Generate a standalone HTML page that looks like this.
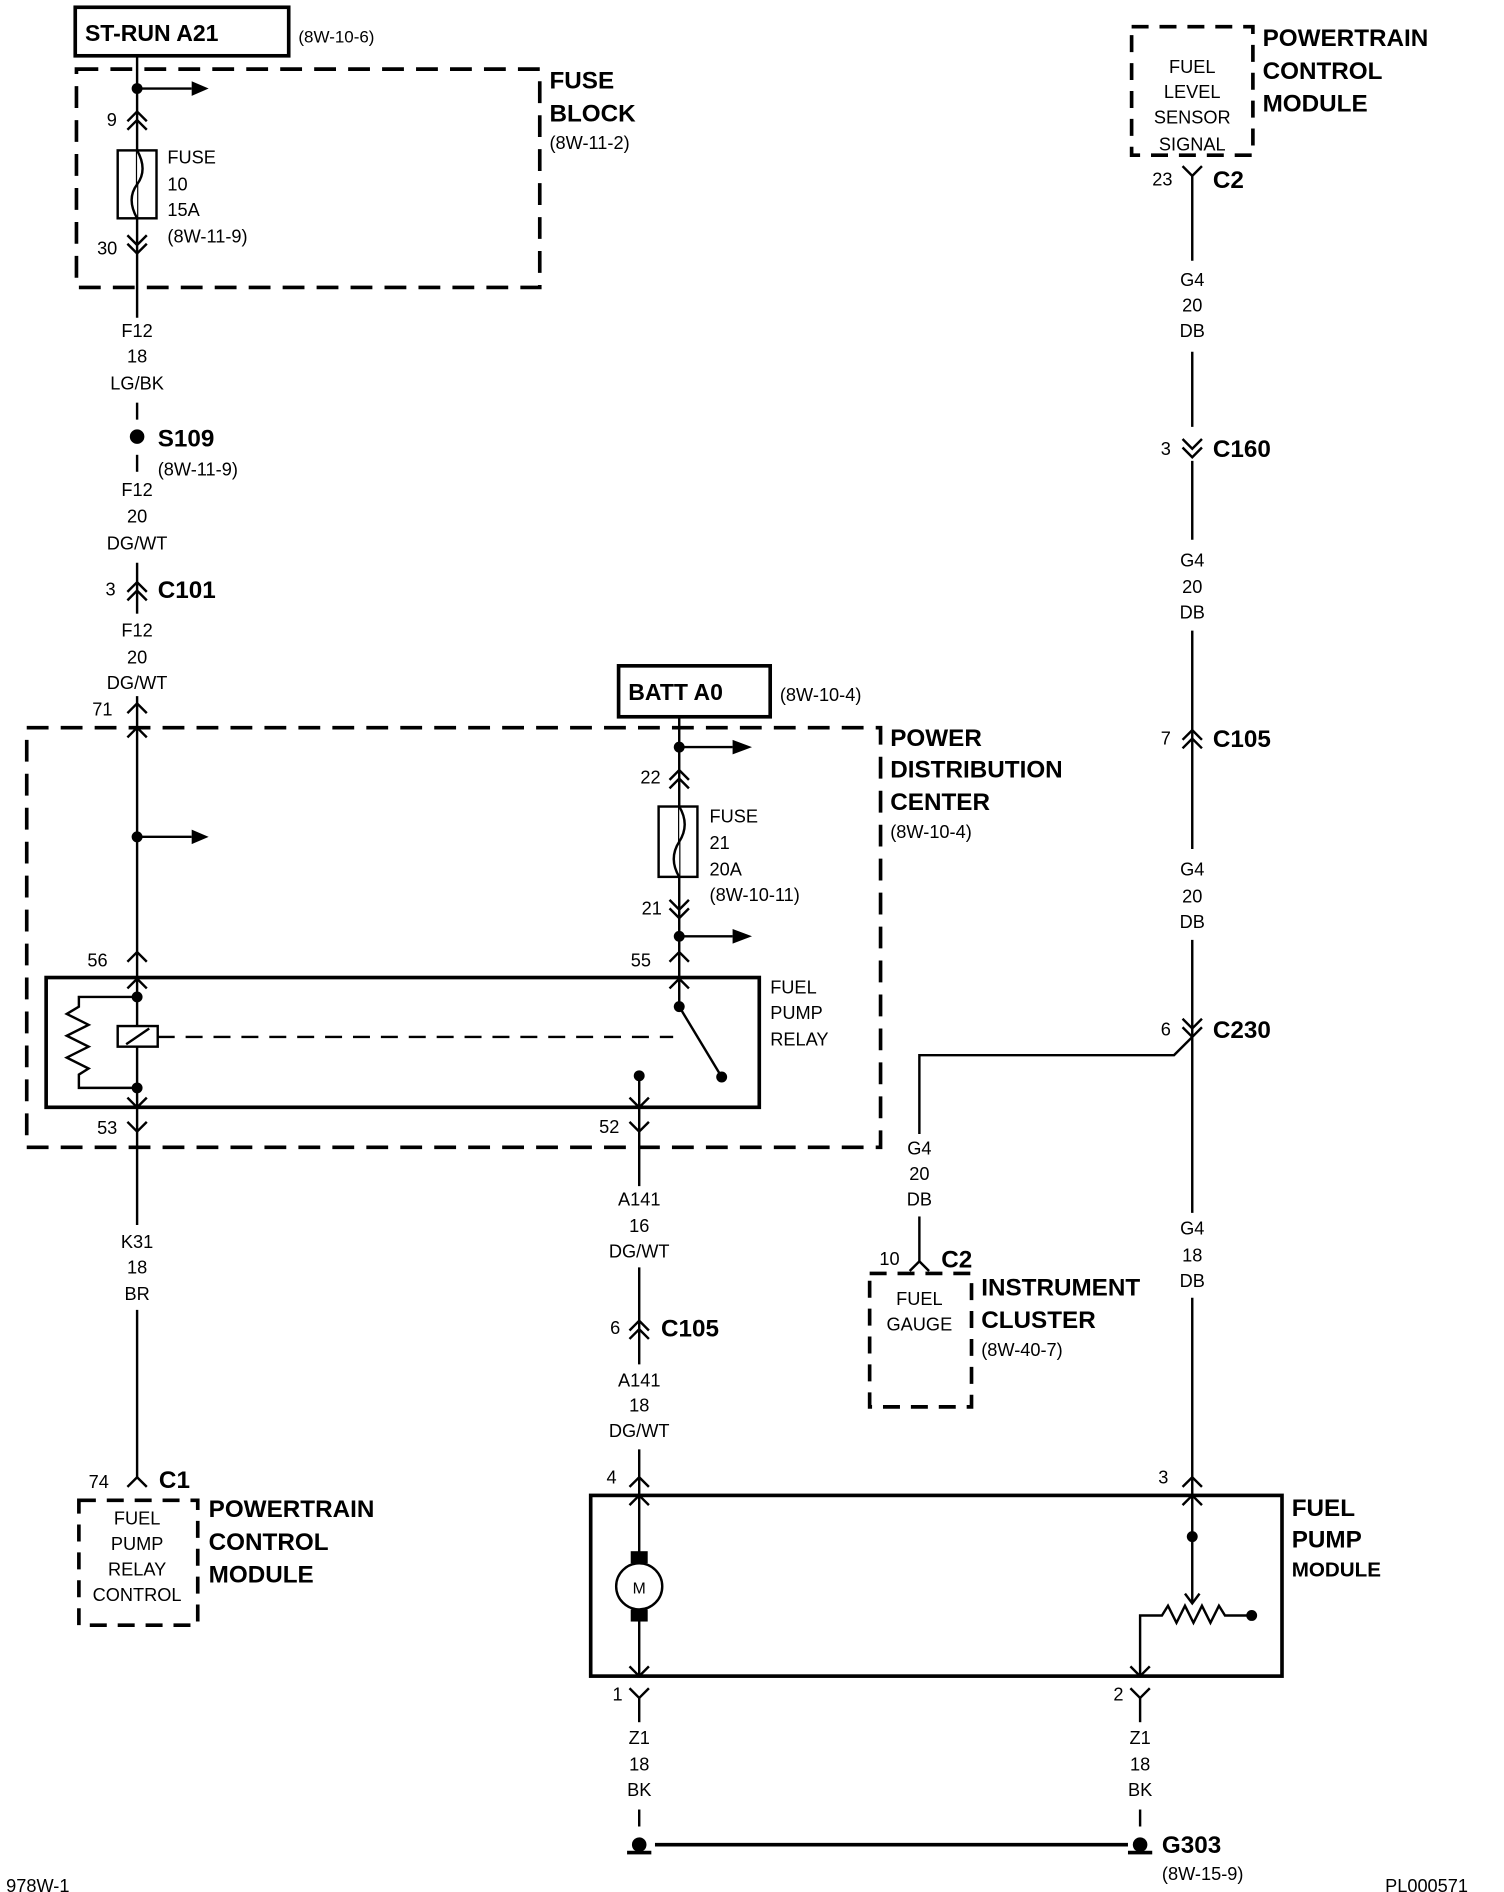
<!DOCTYPE html>
<html><head><meta charset="utf-8"><style>
html,body{margin:0;padding:0;background:#fff;}
svg{display:block;}
text{font-family:"Liberation Sans",sans-serif;fill:#000;}
.s{font-size:15px;}
.b{font-size:20px;font-weight:bold;}
.c{text-anchor:middle;}
</style></head><body>
<svg width="1504" height="1892" viewBox="0 0 1240 1560" xmlns="http://www.w3.org/2000/svg">
<g fill="none" stroke="#000" stroke-width="2">
<rect x="62" y="6" width="176" height="40" stroke-width="3"/>
<rect x="63" y="57" width="382" height="180" stroke-width="3" stroke-dasharray="18,10"/>
<line x1="113" y1="46" x2="113" y2="262"/>
<line x1="113" y1="73" x2="158" y2="73"/>
<path d="M105 100 L113 92 L121 100 M105 107 L113 99 L121 107"/>
<rect x="97" y="124" width="32" height="56"/>
<path d="M113 124 Q122 140 113 152 Q104 164 113 180" fill="#fff"/>
<path d="M105 194 L113 202 L121 194 M105 201 L113 209 L121 201"/>
<line x1="113" y1="332" x2="113" y2="346"/>
<line x1="113" y1="375" x2="113" y2="389"/>
<line x1="113" y1="464" x2="113" y2="506"/>
<path d="M105 488 L113 480 L121 488 M105 495 L113 487 L121 495"/>
<line x1="113" y1="574" x2="113" y2="913"/>
<path d="M105 588 L113 580 L121 588 M105 608 L113 600 L121 608"/>
<line x1="113" y1="690" x2="158" y2="690"/>
<path d="M105 793 L113 785 L121 793 M105 815 L113 807 L121 815"/>
<rect x="22" y="600" width="704" height="346" stroke-width="3" stroke-dasharray="18,10"/>
<rect x="38" y="806" width="588" height="107" stroke-width="3"/>
<path d="M113 822 L65 822 L65 830 L55 836 L73 845 L55 854 L73 863 L55 872 L73 881 L65 886 L65 897 L113 897"/>
<rect x="97" y="846" width="33" height="17" fill="#fff"/>
<line x1="104" y1="861" x2="123" y2="848"/>
<line x1="130" y1="855" x2="555" y2="855" stroke-dasharray="14,9"/>
<path d="M105 905 L113 913 L121 905 M105 925 L113 933 L121 925"/>
<line x1="560" y1="592" x2="560" y2="830"/>
<line x1="560" y1="616" x2="604" y2="616"/>
<path d="M552 643 L560 635 L568 643 M552 650 L560 642 L568 650"/>
<rect x="543" y="665" width="32" height="58"/>
<path d="M560 665 Q569 680 560 694 Q551 708 560 723" fill="#fff"/>
<path d="M552 742 L560 750 L568 742 M552 749 L560 757 L568 749"/>
<line x1="560" y1="772" x2="604" y2="772"/>
<path d="M552 793 L560 785 L568 793 M552 815 L560 807 L568 815"/>
<line x1="560" y1="830" x2="595" y2="888"/>
<line x1="527" y1="887" x2="527" y2="978"/>
<path d="M519 905 L527 913 L535 905 M519 925 L527 933 L535 925"/>
<line x1="113" y1="913" x2="113" y2="1010"/>
<line x1="113" y1="1080" x2="113" y2="1218"/>
<path d="M105 1226 L113 1218 L121 1226"/>
<rect x="65" y="1237" width="98" height="103" stroke-width="3" stroke-dasharray="14,9"/>
<line x1="527" y1="1045" x2="527" y2="1125"/>
<path d="M519 1097 L527 1089 L535 1097 M519 1104 L527 1096 L535 1104"/>
<line x1="527" y1="1195" x2="527" y2="1280"/>
<path d="M519 1226 L527 1218 L535 1226 M519 1241 L527 1233 L535 1241"/>
<rect x="487" y="1233" width="570" height="149" stroke-width="3"/>
<circle cx="527" cy="1308" r="19"/>
<line x1="527" y1="1336" x2="527" y2="1382"/>
<path d="M519 1374 L527 1382 L535 1374 M519 1392 L527 1400 L535 1392"/>
<line x1="527" y1="1400" x2="527" y2="1420"/>
<line x1="527" y1="1492" x2="527" y2="1506"/>
<line x1="540" y1="1521" x2="930" y2="1521" stroke-width="3"/>
<rect x="933" y="22" width="100" height="106" stroke-width="3" stroke-dasharray="14,9"/>
<path d="M975 137 L983 145 L991 137"/>
<line x1="983" y1="145" x2="983" y2="215"/>
<line x1="983" y1="290" x2="983" y2="352"/>
<path d="M975 362 L983 370 L991 362 M975 369 L983 377 L991 369"/>
<line x1="983" y1="380" x2="983" y2="445"/>
<line x1="983" y1="520" x2="983" y2="700"/>
<path d="M975 610 L983 602 L991 610 M975 617 L983 609 L991 617"/>
<line x1="983" y1="775" x2="983" y2="1000"/>
<path d="M975 840 L983 848 L991 840 M975 847 L983 855 L991 847"/>
<path d="M983 855 L968 870 L758 870 L758 935"/>
<line x1="758" y1="1003" x2="758" y2="1040"/>
<path d="M750 1048 L758 1040 L766 1048"/>
<rect x="717" y="1050" width="84" height="110" stroke-width="3" stroke-dasharray="14,9"/>
<line x1="983" y1="1070" x2="983" y2="1322"/>
<path d="M975 1226 L983 1218 L991 1226 M975 1241 L983 1233 L991 1241"/>
<path d="M977 1314 L983 1322 L989 1314"/>
<path d="M940 1382 L940 1332 L958 1332 L963 1324 L970 1338 L977 1324 L984 1338 L991 1324 L998 1338 L1005 1324 L1010 1332 L1032 1332"/>
<path d="M932 1374 L940 1382 L948 1374 M932 1392 L940 1400 L948 1392"/>
<line x1="940" y1="1400" x2="940" y2="1420"/>
<line x1="940" y1="1492" x2="940" y2="1506"/>
</g>
<g fill="#000">
<path d="M158 67 L172 73 L158 79Z"/><path d="M158 684 L172 690 L158 696Z"/>
<path d="M604 610 L620 616 L604 622Z"/><path d="M604 766 L620 772 L604 778Z"/>
<circle cx="113" cy="73" r="4.5"/><circle cx="113" cy="360" r="6"/><circle cx="113" cy="690" r="4.5"/>
<circle cx="113" cy="822" r="4.5"/><circle cx="113" cy="897" r="4.5"/>
<circle cx="560" cy="616" r="4.5"/><circle cx="560" cy="772" r="4.5"/><circle cx="560" cy="830" r="4.5"/>
<circle cx="595" cy="888" r="4.5"/><circle cx="527" cy="887" r="4.5"/>
<circle cx="983" cy="1267" r="4.5"/><circle cx="1032" cy="1332" r="4.5"/>
<rect x="520" y="1279" width="14" height="10"/><rect x="520" y="1327" width="14" height="10"/>
<circle cx="527" cy="1521" r="6"/><rect x="517" y="1526" width="20" height="3"/>
<circle cx="940" cy="1521" r="6"/><rect x="930" y="1526" width="20" height="3"/>
</g>
<text x="70" y="34" class="b" style="font-size:19px">ST-RUN A21</text>
<text x="246" y="35" class="s" style="font-size:14px">(8W-10-6)</text>
<text x="453" y="73" class="b">FUSE</text><text x="453" y="100" class="b">BLOCK</text><text x="453" y="123" class="s">(8W-11-2)</text>
<text x="88" y="104" class="s">9</text>
<text x="138" y="135" class="s">FUSE</text><text x="138" y="157" class="s">10</text><text x="138" y="178" class="s">15A</text><text x="138" y="200" class="s">(8W-11-9)</text>
<text x="80" y="210" class="s">30</text>
<text x="113" y="278" class="s c">F12</text><text x="113" y="299" class="s c">18</text><text x="113" y="321" class="s c">LG/BK</text>
<text x="130" y="368" class="b">S109</text><text x="130" y="392" class="s">(8W-11-9)</text>
<text x="113" y="409" class="s c">F12</text><text x="113" y="431" class="s c">20</text><text x="113" y="453" class="s c">DG/WT</text>
<text x="87" y="491" class="s">3</text><text x="130" y="493" class="b">C101</text>
<text x="113" y="525" class="s c">F12</text><text x="113" y="547" class="s c">20</text><text x="113" y="568" class="s c">DG/WT</text>
<text x="76" y="590" class="s">71</text>
<rect x="510" y="549" width="125" height="42" fill="none" stroke="#000" stroke-width="3"/>
<text x="518" y="577" class="b" style="font-size:19px">BATT A0</text>
<text x="643" y="578" class="s">(8W-10-4)</text>
<text x="734" y="615" class="b">POWER</text><text x="734" y="641" class="b">DISTRIBUTION</text><text x="734" y="668" class="b">CENTER</text><text x="734" y="691" class="s">(8W-10-4)</text>
<text x="528" y="646" class="s">22</text>
<text x="585" y="678" class="s">FUSE</text><text x="585" y="700" class="s">21</text><text x="585" y="722" class="s">20A</text><text x="585" y="743" class="s">(8W-10-11)</text>
<text x="529" y="754" class="s">21</text>
<text x="72" y="797" class="s">56</text><text x="520" y="797" class="s">55</text>
<text x="635" y="819" class="s">FUEL</text><text x="635" y="840" class="s">PUMP</text><text x="635" y="862" class="s">RELAY</text>
<text x="80" y="935" class="s">53</text><text x="494" y="934" class="s">52</text>
<text x="113" y="1029" class="s c">K31</text><text x="113" y="1050" class="s c">18</text><text x="113" y="1072" class="s c">BR</text>
<text x="527" y="994" class="s c">A141</text><text x="527" y="1016" class="s c">16</text><text x="527" y="1037" class="s c">DG/WT</text>
<text x="503" y="1100" class="s">6</text><text x="545" y="1102" class="b">C105</text>
<text x="527" y="1143" class="s c">A141</text><text x="527" y="1164" class="s c">18</text><text x="527" y="1185" class="s c">DG/WT</text>
<text x="73" y="1227" class="s">74</text><text x="131" y="1227" class="b">C1</text>
<text x="113" y="1257" class="s c">FUEL</text><text x="113" y="1278" class="s c">PUMP</text><text x="113" y="1299" class="s c">RELAY</text><text x="113" y="1320" class="s c">CONTROL</text>
<text x="172" y="1251" class="b">POWERTRAIN</text><text x="172" y="1278" class="b">CONTROL</text><text x="172" y="1305" class="b">MODULE</text>
<text x="500" y="1223" class="s">4</text><text x="955" y="1223" class="s">3</text>
<text x="527" y="1314" class="c" style="font-size:13px">M</text>
<text x="1065" y="1250" class="b">FUEL</text><text x="1065" y="1276" class="b">PUMP</text><text x="1065" y="1300" class="b" style="font-size:17px">MODULE</text>
<text x="505" y="1402" class="s">1</text><text x="918" y="1402" class="s">2</text>
<text x="527" y="1438" class="s c">Z1</text><text x="527" y="1460" class="s c">18</text><text x="527" y="1481" class="s c">BK</text>
<text x="940" y="1438" class="s c">Z1</text><text x="940" y="1460" class="s c">18</text><text x="940" y="1481" class="s c">BK</text>
<text x="958" y="1528" class="b">G303</text><text x="958" y="1550" class="s">(8W-15-9)</text>
<text x="983" y="60" class="s c">FUEL</text><text x="983" y="81" class="s c">LEVEL</text><text x="983" y="102" class="s c">SENSOR</text><text x="983" y="124" class="s c">SIGNAL</text>
<text x="1041" y="38" class="b">POWERTRAIN</text><text x="1041" y="65" class="b">CONTROL</text><text x="1041" y="92" class="b">MODULE</text>
<text x="950" y="153" class="s">23</text><text x="1000" y="155" class="b">C2</text>
<text x="983" y="236" class="s c">G4</text><text x="983" y="257" class="s c">20</text><text x="983" y="278" class="s c">DB</text>
<text x="957" y="375" class="s">3</text><text x="1000" y="377" class="b">C160</text>
<text x="983" y="467" class="s c">G4</text><text x="983" y="489" class="s c">20</text><text x="983" y="510" class="s c">DB</text>
<text x="957" y="614" class="s">7</text><text x="1000" y="616" class="b">C105</text>
<text x="983" y="722" class="s c">G4</text><text x="983" y="744" class="s c">20</text><text x="983" y="765" class="s c">DB</text>
<text x="957" y="854" class="s">6</text><text x="1000" y="856" class="b">C230</text>
<text x="758" y="952" class="s c">G4</text><text x="758" y="973" class="s c">20</text><text x="758" y="994" class="s c">DB</text>
<text x="725" y="1043" class="s">10</text><text x="776" y="1045" class="b">C2</text>
<text x="758" y="1076" class="s c">FUEL</text><text x="758" y="1097" class="s c">GAUGE</text>
<text x="809" y="1068" class="b">INSTRUMENT</text><text x="809" y="1095" class="b">CLUSTER</text><text x="809" y="1118" class="s">(8W-40-7)</text>
<text x="983" y="1018" class="s c">G4</text><text x="983" y="1040" class="s c">18</text><text x="983" y="1061" class="s c">DB</text>
<text x="5" y="1560" class="s">978W-1</text><text x="1142" y="1560" class="s">PL000571</text>
</svg>
</body></html>
